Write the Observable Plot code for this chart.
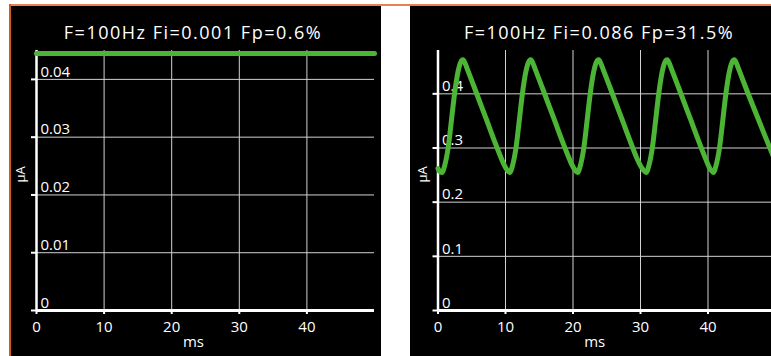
<!DOCTYPE html>
<html><head><meta charset="utf-8">
<script src="https://cdn.jsdelivr.net/npm/d3@7"></script>
<script src="https://cdn.jsdelivr.net/npm/@observablehq/plot@0.6"></script>
<style>
html,body{margin:0;padding:0;background:#fff;width:771px;height:356px;overflow:hidden;font-family:"Open Sans",sans-serif;}
#topline{position:absolute;left:10px;top:4px;width:761px;height:2px;background:#e8834f;}
#leftline{position:absolute;left:9px;top:4px;width:2px;height:352px;background:#cf5d22;}
.panel{position:absolute;top:6px;width:370px;height:350px;background:#000;overflow:hidden;}
.title{position:absolute;top:17px;color:#fff;font-size:18px;line-height:18px;letter-spacing:1.5px;text-align:center;white-space:nowrap;}
.panel svg{position:absolute;left:0;top:34px;overflow:visible;}
</style>
</head><body>
<div id="topline"></div>
<div id="leftline"></div>
<div class="panel" id="p1" style="left:11px"><div class="title" style="left:0;width:364px"></div></div>
<div class="panel" id="p2" style="left:410px"><div class="title" style="left:0;width:378px"></div></div>
<script>
// ---- data ----
const xTicks = [0, 10, 20, 30, 40];
const leftYTicks = [0, 0.01, 0.02, 0.03, 0.04];
const rightYTicks = [0, 0.1, 0.2, 0.3, 0.4];
const xLabel = "ms";
const yLabel = "µA";
const leftTitle = "F=100Hz Fi=0.001 Fp=0.6%";
const rightTitle = "F=100Hz Fi=0.086 Fp=31.5%";

// left panel: flat current
const leftT = [0, 50];
const leftV = [0.0445, 0.0445];

// right panel: periodic current waveform
const rightT = [
  0, 0.3, 0.6, 1.0, 1.5, 2.0, 2.45, 2.95, 3.35, 3.7, 4.0, 4.25, 5.5, 7.1, 8.7, 9.4, 10.0,
  10.65, 11.05, 11.55, 12.05, 12.5, 13.0, 13.4, 13.75, 14.05, 14.3, 15.55, 17.15, 18.75, 19.45, 20.05,
  20.7, 21.1, 21.6, 22.1, 22.55, 23.05, 23.45, 23.8, 24.1, 24.35, 25.6, 27.2, 28.8, 29.5, 30.15,
  30.85, 31.25, 31.75, 32.25, 32.7, 33.2, 33.6, 33.95, 34.25, 34.5, 35.75, 37.35, 38.95, 39.65, 40.2,
  40.8, 41.2, 41.7, 42.2, 42.65, 43.15, 43.55, 43.9, 44.2, 44.45, 45.7, 47.4, 49.1, 50
];
const rightV = [
  0.262, 0.256, 0.255, 0.268, 0.300, 0.352, 0.400, 0.440, 0.458, 0.463, 0.457, 0.449, 0.408, 0.355, 0.302, 0.280, 0.264,
  0.255, 0.268, 0.300, 0.352, 0.400, 0.440, 0.458, 0.463, 0.457, 0.449, 0.408, 0.355, 0.302, 0.280, 0.264,
  0.255, 0.268, 0.300, 0.352, 0.400, 0.440, 0.458, 0.463, 0.457, 0.449, 0.408, 0.355, 0.302, 0.280, 0.264,
  0.255, 0.268, 0.300, 0.352, 0.400, 0.440, 0.458, 0.463, 0.457, 0.449, 0.408, 0.355, 0.302, 0.280, 0.264,
  0.255, 0.268, 0.300, 0.352, 0.400, 0.440, 0.458, 0.463, 0.457, 0.449, 0.408, 0.355, 0.302, 0.275
];

const GREEN = "#4db535";
const GRID = "#d2d2d2";

function makeChart(T, V, yTicks, yDomain, mLeft, mRight) {
  const data = T.map((t, i) => ({t, v: V[i]}));
  return Plot.plot({
    width: 370, height: 316,
    marginTop: 10, marginBottom: 46, marginLeft: mLeft, marginRight: mRight,
    style: {background: "transparent", color: "#fff", fontFamily: "Open Sans, sans-serif", fontSize: "15px", overflow: "visible"},
    x: {domain: [0, 50]},
    y: {domain: yDomain},
    marks: [
      Plot.gridX(xTicks.slice(1), {stroke: GRID, strokeOpacity: 1, strokeWidth: 1}),
      Plot.gridY(yTicks.slice(1), {stroke: GRID, strokeOpacity: 1, strokeWidth: 1}),
      Plot.axisY(yTicks, {tickSize: 5, tickFormat: () => "", label: null, strokeWidth: 2}),
      Plot.text(yTicks, {y: d => d, text: d => String(d), frameAnchor: "left", textAnchor: "start",
        dx: 4, dy: -7.5, fill: "#fff", fontSize: 15}),
      Plot.axisX(xTicks, {tickSize: 4, tickPadding: 7, tickFormat: d => String(d),
        label: null, strokeWidth: 2, fill: "#fff"}),
      Plot.ruleX([0], {stroke: "#fff", strokeWidth: 2.5}),
      Plot.ruleY([0], {stroke: "#fff", strokeWidth: 3}),
      Plot.text([xLabel], {frameAnchor: "bottom", dx: -12, dy: 36, fill: "#fff", fontSize: 15}),
      Plot.text([yLabel], {frameAnchor: "left", rotate: -90, dx: -15.5, dy: 2, fill: "#fff", fontSize: 13}),
      Plot.line(data, {x: "t", y: "v", stroke: GREEN, strokeWidth: 5, curve: "monotone-x"})
    ]
  });
}

document.querySelector("#p1 .title").textContent = leftTitle;
document.querySelector("#p2 .title").textContent = rightTitle;
document.getElementById("p1").appendChild(makeChart(leftT, leftV, leftYTicks, [0, 0.045], 25, 7));
document.getElementById("p2").appendChild(makeChart(rightT, rightV, rightYTicks, [0, 0.48], 27.5, 5));
</script>
</body></html>
